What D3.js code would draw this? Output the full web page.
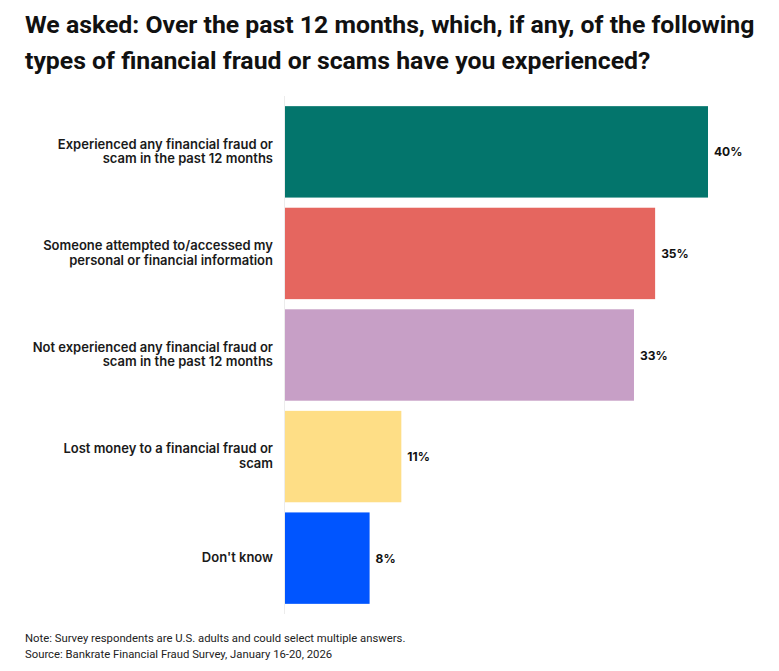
<!DOCTYPE html>
<html><head><meta charset="utf-8">
<script src="https://cdn.jsdelivr.net/npm/d3@7"></script>
<style>body{margin:0;background:#fff;} svg{display:block;}</style>
</head><body>
<script>
const categories = [
  ["Experienced any financial fraud or", "scam in the past 12 months"],
  ["Someone attempted to/accessed my", "personal or financial information"],
  ["Not experienced any financial fraud or", "scam in the past 12 months"],
  ["Lost money to a financial fraud or", "scam"],
  ["Don't know"]
];
const values = [40, 35, 33, 11, 8];
const colors = ["#03756c", "#e5665f", "#c79fc6", "#fede86", "#0055ff"];
const titleLines = ["We asked: Over the past 12 months, which, if any, of the following",
                    "types of financial fraud or scams have you experienced?"];
const notes = ["Note: Survey respondents are U.S. adults and could select multiple answers.",
               "Source: Bankrate Financial Fraud Survey, January 16-20, 2026"];

const W = 779, H = 671;
const svg = d3.select("body").append("svg").attr("width", W).attr("height", H);

svg.selectAll("text.title").data(titleLines).join("text")
  .attr("class","title")
  .attr("x", 25).attr("y", (d,i) => 33 + i*36)
  .attr("font-family", "Roboto, sans-serif").attr("font-weight", 700)
  .attr("font-size", 24.8).attr("fill", "#111")
  .text(d => d);

const x0 = 285;
const x = d3.scaleLinear().domain([0, 40]).range([x0, 708]);
const y = d3.scaleBand().domain(d3.range(values.length)).range([96, 614])
  .paddingInner(0.1).paddingOuter(0.1);

svg.append("line").attr("x1", x0-0.5).attr("x2", x0-0.5).attr("y1", 96).attr("y2", 614)
  .attr("stroke", "#ececec").attr("stroke-width", 1);

svg.selectAll("rect.bar").data(values).join("rect")
  .attr("class","bar")
  .attr("x", x(0)).attr("y", (d,i) => y(i))
  .attr("width", d => x(d) - x(0)).attr("height", y.bandwidth())
  .attr("fill", (d,i) => colors[i]);

const lab = svg.selectAll("text.cat").data(categories).join("text")
  .attr("class","cat")
  .attr("text-anchor","end")
  .attr("font-family","Inter, sans-serif").attr("font-weight",600)
  .attr("font-size",13).attr("fill","#1a1a1a");
lab.each(function(lines, i){
  const cy = y(i) + y.bandwidth()/2;
  const lh = 14.5;
  const start = cy - (lines.length-1)*lh/2 + 4;
  d3.select(this).selectAll("tspan").data(lines).join("tspan")
    .attr("x", 273).attr("y", (d,j) => start + j*lh).text(d => d);
});

svg.selectAll("text.val").data(values).join("text")
  .attr("class","val")
  .attr("x", d => x(d) + 6).attr("y", (d,i) => y(i) + y.bandwidth()/2 + 4.5)
  .attr("font-family","Inter, sans-serif").attr("font-weight",700)
  .attr("font-size",12).attr("fill","#111")
  .text(d => d + "%");

const noteSel = svg.selectAll("text.note").data(notes).join("text")
  .attr("class","note")
  .attr("x", 25).attr("y", (d,i) => 642 + i*16)
  .attr("font-family","Roboto, sans-serif").attr("font-weight",400)
  .attr("font-size",12).attr("fill","#222")
  .text(d => d);
const w0 = noteSel.node().getComputedTextLength();
if (w0 > 0) noteSel.attr("font-size", 12 * 381 / w0);
</script>
</body></html>
